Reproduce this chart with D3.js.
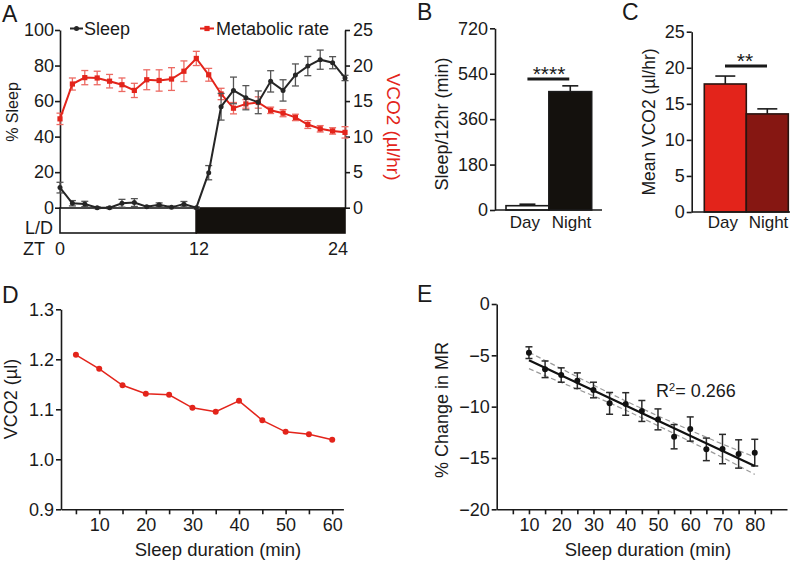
<!DOCTYPE html>
<html><head><meta charset="utf-8">
<script src="https://cdn.jsdelivr.net/npm/d3@7"></script>
<style>
body{margin:0;background:#fff}
svg{display:block}
text{font-family:"Liberation Sans",Arial,Helvetica,sans-serif;fill:#1a1a1a}
</style>
</head><body>
<svg id="chart" width="800" height="564"></svg>
<script>
// ---------------- DATA ----------------
// Panel A (hourly bins, ZT)
const ztIndex = [0,1,2,3,4,5,6,7,8,9,10,11,12,13,14,15,16,17,18,19,20,21,22,23];
const sleepPct = [11.3,2.5,2.1,0,0,2.5,2.9,0.5,1.7,0.2,2,0,19.7,56.8,66,61.9,59.3,71.1,66,74.7,79.7,83.3,81.6,73];
const sleepPctErr = [3,1.5,1.5,0.5,0.5,2.2,2.2,0.6,1,0.6,1.5,0.5,4,7.5,7.5,6.8,6.4,6,6,6.2,5.4,5.4,3.4,1.5];
const vco2Hourly = [12.5,17.4,18.3,18.25,17.8,17.3,16.5,18.0,17.9,18.1,19.2,21.0,18.7,16.0,14.0,14.6,14.8,13.7,13.3,12.7,11.7,11.1,10.8,10.6];
const vco2HourlyErr = [0.8,0.85,1.0,0.95,0.95,0.95,1.0,1.4,1.5,1.6,1.45,1.0,0.9,0.8,0.8,0.6,0.8,0.45,0.5,0.45,0.55,0.45,0.45,0.8];
const sleepTicks = [0,20,40,60,80,100];
const vco2Ticks = [0,5,10,15,20,25];
const ztLabels = [0,12,24];
const lightPhase = [0,11];
const darkPhase = [11,23];

// Panel B
const periods = ["Day","Night"];
const sleepMin = [17,469];
const sleepMinErr = [6,23];
const sleepMinTicks = [0,180,360,540,720];

// Panel C
const meanVco2 = [17.75,13.6];
const meanVco2Err = [1.1,0.7];
const meanVco2Ticks = [0,5,10,15,20,25];

// Panel D
const durD = [5,10,15,20,25,30,35,40,45,50,55,60];
const vco2D = [1.209,1.181,1.148,1.131,1.129,1.103,1.095,1.117,1.078,1.055,1.050,1.039];
const vco2DTicks = [0.9,1.0,1.1,1.2,1.3];
const durDTicks = [5,10,15,20,25,30,35,40,45,50,55,60];
const durDLabels = [10,20,30,40,50,60];

// Panel E
const durE = [10,15,20,25,30,35,40,45,50,55,60,65,70,75,80];
const mrChange = [-4.74,-6.36,-6.92,-7.47,-8.38,-9.68,-9.74,-10.42,-11.24,-12.93,-12.18,-14.16,-14.13,-14.61,-14.48];
const mrErr = [0.57,0.81,0.70,0.76,0.76,1.06,1.10,1.02,1.02,1.18,1.18,1.10,1.43,1.38,1.30];
const fitX = [10,80];
const fitY = [-5.49,-15.78];
const bandX = [10,20,30,40,50,60,70,80];
const bandUpper = [-4.7,-6.3,-7.9,-9.45,-10.9,-12.3,-13.65,-14.9];
const bandLower = [-6.3,-7.65,-8.95,-10.35,-11.85,-13.4,-14.95,-16.6];
const mrTicks = [0,-5,-10,-15,-20];
const durETicks = [5,10,15,20,25,30,35,40,45,50,55,60,65,70,75,80,85];
const durELabels = [10,20,30,40,50,60,70,80];

// ---------------- STYLE ----------------
const INK = "#1a1a1a";
const RED = "#e3241b";
const RED_ERR = "#ec6a63";
const DARKRED = "#861712";
const FS = 18;
const labelShift = [-2.5, 1.2];

const svg = d3.select("#chart");

function styleAxis(g, color){
  g.select(".domain").attr("stroke", color||INK).attr("stroke-width",1.6);
  g.selectAll(".tick line").attr("stroke", color||INK).attr("stroke-width",1.6);
  g.selectAll(".tick text").attr("font-size",FS).attr("fill", color||INK)
    .style("font-family",'"Liberation Sans",Arial,sans-serif');
}
function panelLabel(t,x,y){
  svg.append("text").attr("x",x).attr("y",y).attr("font-size",23).text(t);
}

// ================= PANEL A =================
{
  const x = d3.scaleLinear().domain([0,23]).range([60,345]);
  const xl = d3.scaleLinear().domain([0,24]).range([60,338]);
  const yL = d3.scaleLinear().domain([0,100]).range([207.7,30]);
  const yR = d3.scaleLinear().domain([0,25]).range([207.7,30]);

  const gL = svg.append("g").attr("transform","translate(60,0)")
    .call(d3.axisLeft(yL).tickValues(sleepTicks).tickSize(5).tickPadding(1).tickSizeOuter(0));
  styleAxis(gL);
  const gR = svg.append("g").attr("transform","translate(345,0)")
    .call(d3.axisRight(yR).tickValues(vco2Ticks).tickSize(5).tickPadding(3).tickSizeOuter(0));
  styleAxis(gR, INK);
  gR.selectAll(".tick text").attr("fill",RED);

  // L/D bar
  const barTop = 208, barH = 25;
  svg.append("rect").attr("x",x(lightPhase[0])).attr("y",barTop)
    .attr("width",x(lightPhase[1])-x(lightPhase[0])).attr("height",barH)
    .attr("fill","#fff").attr("stroke",INK).attr("stroke-width",1.6);
  svg.append("rect").attr("x",x(darkPhase[0])).attr("y",barTop)
    .attr("width",x(darkPhase[1])-x(darkPhase[0])).attr("height",barH)
    .attr("fill","#14110d").attr("stroke","#14110d").attr("stroke-width",1.6);
  svg.append("text").attr("x",53).attr("y",234).attr("text-anchor","end").attr("font-size",FS).text("L/D");
  svg.append("text").attr("x",23).attr("y",255).attr("font-size",FS).text("ZT");
  svg.selectAll(".ztl").data(ztLabels).enter().append("text")
    .attr("x",d=>xl(d)).attr("y",255).attr("text-anchor","middle").attr("font-size",FS).text(d=>d);

  // red series
  const redLine = d3.line().x((d,i)=>x(ztIndex[i])).y(d=>yR(d));
  svg.append("g").selectAll("g").data(vco2Hourly).enter().append("g").each(function(d,i){
    const g = d3.select(this), cx = x(ztIndex[i]), e = vco2HourlyErr[i];
    g.append("line").attr("x1",cx).attr("x2",cx).attr("y1",yR(d-e)).attr("y2",yR(d+e));
    g.append("line").attr("x1",cx-3.5).attr("x2",cx+3.5).attr("y1",yR(d-e)).attr("y2",yR(d-e));
    g.append("line").attr("x1",cx-3.5).attr("x2",cx+3.5).attr("y1",yR(d+e)).attr("y2",yR(d+e));
  }).selectAll("line").attr("stroke",RED_ERR).attr("stroke-width",1.3);
  svg.append("path").datum(vco2Hourly).attr("d",redLine).attr("fill","none").attr("stroke",RED).attr("stroke-width",2);
  svg.selectAll(".rsq").data(vco2Hourly).enter().append("rect")
    .attr("x",(d,i)=>x(ztIndex[i])-2.6).attr("y",d=>yR(d)-2.6).attr("width",5.2).attr("height",5.2).attr("fill",RED);

  // black series
  const blkLine = d3.line().x((d,i)=>x(ztIndex[i])).y(d=>yL(d));
  svg.append("g").selectAll("g").data(sleepPct).enter().append("g").each(function(d,i){
    const g = d3.select(this), cx = x(ztIndex[i]), e = sleepPctErr[i];
    g.append("line").attr("x1",cx).attr("x2",cx).attr("y1",yL(d-e)).attr("y2",yL(d+e));
    g.append("line").attr("x1",cx-3.5).attr("x2",cx+3.5).attr("y1",yL(d-e)).attr("y2",yL(d-e));
    g.append("line").attr("x1",cx-3.5).attr("x2",cx+3.5).attr("y1",yL(d+e)).attr("y2",yL(d+e));
  }).selectAll("line").attr("stroke","#555").attr("stroke-width",1.3);
  svg.append("path").datum(sleepPct).attr("d",blkLine).attr("fill","none").attr("stroke","#262626").attr("stroke-width",2);
  svg.selectAll(".bdot").data(sleepPct).enter().append("circle")
    .attr("cx",(d,i)=>x(ztIndex[i])).attr("cy",d=>yL(d)).attr("r",2.5).attr("fill","#262626");

  // legend
  svg.append("line").attr("x1",70).attr("x2",83).attr("y1",28.5).attr("y2",28.5).attr("stroke","#262626").attr("stroke-width",2);
  svg.append("circle").attr("cx",76.5).attr("cy",28.5).attr("r",2.5).attr("fill","#262626");
  svg.append("text").attr("x",84).attr("y",35).attr("font-size",18).text("Sleep");
  svg.append("line").attr("x1",200).attr("x2",214).attr("y1",28.5).attr("y2",28.5).attr("stroke",RED).attr("stroke-width",2);
  svg.append("rect").attr("x",204.4).attr("y",25.9).attr("width",5.2).attr("height",5.2).attr("fill",RED);
  svg.append("text").attr("x",216).attr("y",35).attr("font-size",18).text("Metabolic rate");

  // axis titles
  svg.append("text").attr("transform","translate(18,112) rotate(-90)").attr("text-anchor","middle")
    .attr("font-size",16).text("% Sleep");
  svg.append("text").attr("transform","translate(387,127) rotate(90)").attr("text-anchor","middle")
    .attr("font-size",19).attr("fill",RED).style("fill",RED).text("VCO2 (µl/hr)");
  panelLabel("A",2,22);
}

// ================= PANEL B =================
{
  const x = d3.scaleBand().domain(periods).range([506,591.7]).padding(0);
  const y = d3.scaleLinear().domain([0,720]).range([210,28.3]);
  const g = svg.append("g").attr("transform","translate(495,0)")
    .call(d3.axisLeft(y).tickValues(sleepMinTicks).tickSize(5).tickPadding(2).tickSizeOuter(0));
  styleAxis(g);
  const fills = ["#ffffff","#14110d"];
  periods.forEach((p,i)=>{
    const cx = x(p)+x.bandwidth()/2;
    svg.append("line").attr("x1",cx).attr("x2",cx).attr("y1",y(sleepMin[i])).attr("y2",y(sleepMin[i]+sleepMinErr[i]))
      .attr("stroke",INK).attr("stroke-width",1.6);
    svg.append("line").attr("x1",cx-8).attr("x2",cx+8).attr("y1",y(sleepMin[i]+sleepMinErr[i])).attr("y2",y(sleepMin[i]+sleepMinErr[i]))
      .attr("stroke",INK).attr("stroke-width",1.6);
  });
  svg.selectAll(".bb").data(sleepMin).enter().append("rect")
    .attr("x",(d,i)=>x(periods[i])).attr("y",d=>y(d)).attr("width",x.bandwidth()).attr("height",d=>y(0)-y(d))
    .attr("fill",(d,i)=>fills[i]).attr("stroke",INK).attr("stroke-width",1.6);
  svg.append("line").attr("x1",495).attr("x2",602).attr("y1",y(0)).attr("y2",y(0)).attr("stroke",INK).attr("stroke-width",1.6);
  svg.selectAll(".bl").data(periods).enter().append("text")
    .attr("x",(d,i)=>x(d)+x.bandwidth()/2+labelShift[i]).attr("y",228).attr("text-anchor","middle").attr("font-size",17).text(d=>d);
  svg.append("line").attr("x1",x("Day")+x.bandwidth()/2).attr("x2",x("Night")+x.bandwidth()/2-1)
    .attr("y1",79).attr("y2",79).attr("stroke",INK).attr("stroke-width",3.2);
  svg.append("text").attr("x",549).attr("y",81).attr("text-anchor","middle").attr("font-size",21).text("****");
  svg.append("text").attr("transform","translate(448,124) rotate(-90)").attr("text-anchor","middle")
    .attr("font-size",FS).text("Sleep/12hr (min)");
  panelLabel("B",417,20);
}

// ================= PANEL C =================
{
  const x = d3.scaleBand().domain(periods).range([704.3,788.3]).padding(0);
  const y = d3.scaleLinear().domain([0,25]).range([212,31.7]);
  const g = svg.append("g").attr("transform","translate(691.7,0)")
    .call(d3.axisLeft(y).tickValues(meanVco2Ticks).tickSize(5).tickPadding(2).tickSizeOuter(0));
  styleAxis(g);
  const fills = [RED, DARKRED];
  periods.forEach((p,i)=>{
    const cx = x(p)+x.bandwidth()/2;
    svg.append("line").attr("x1",cx).attr("x2",cx).attr("y1",y(meanVco2[i])).attr("y2",y(meanVco2[i]+meanVco2Err[i]))
      .attr("stroke",INK).attr("stroke-width",1.6);
    svg.append("line").attr("x1",cx-10).attr("x2",cx+10).attr("y1",y(meanVco2[i]+meanVco2Err[i])).attr("y2",y(meanVco2[i]+meanVco2Err[i]))
      .attr("stroke",INK).attr("stroke-width",1.6);
  });
  svg.selectAll(".cb").data(meanVco2).enter().append("rect")
    .attr("x",(d,i)=>x(periods[i])).attr("y",d=>y(d)).attr("width",x.bandwidth()).attr("height",d=>y(0)-y(d))
    .attr("fill",(d,i)=>fills[i]).attr("stroke","#2a1410").attr("stroke-width",1.6);
  svg.append("line").attr("x1",691.7).attr("x2",790).attr("y1",y(0)).attr("y2",y(0)).attr("stroke",INK).attr("stroke-width",1.6);
  svg.selectAll(".cl").data(periods).enter().append("text")
    .attr("x",(d,i)=>x(d)+x.bandwidth()/2+labelShift[i]).attr("y",228).attr("text-anchor","middle").attr("font-size",17).text(d=>d);
  svg.append("line").attr("x1",725).attr("x2",767).attr("y1",66).attr("y2",66).attr("stroke",INK).attr("stroke-width",3.2);
  svg.append("text").attr("x",745).attr("y",68).attr("text-anchor","middle").attr("font-size",21).text("**");
  svg.append("text").attr("transform","translate(655,122) rotate(-90)").attr("text-anchor","middle")
    .attr("font-size",17.5).text("Mean VCO2 (µl/hr)");
  panelLabel("C",622,20);
}

// ================= PANEL D =================
{
  const x = d3.scaleLinear().domain([1.8,62.4]).range([61,343.4]);
  const y = d3.scaleLinear().domain([0.9,1.3]).range([509.3,309.3]);
  const gy = svg.append("g").attr("transform","translate(61,0)")
    .call(d3.axisLeft(y).tickValues(vco2DTicks).tickFormat(d3.format(".1f")).tickSize(5).tickPadding(2).tickSizeOuter(0));
  styleAxis(gy);
  const gx = svg.append("g").attr("transform","translate(0,509.3)")
    .call(d3.axisBottom(x).tickValues(durDTicks).tickFormat(d=>durDLabels.includes(d)?d:"").tickSize(5).tickPadding(4).tickSizeOuter(0));
  styleAxis(gx);
  const line = d3.line().x((d,i)=>x(durD[i])).y(d=>y(d));
  svg.append("path").datum(vco2D).attr("d",line).attr("fill","none").attr("stroke",RED).attr("stroke-width",1.5);
  svg.selectAll(".dd").data(vco2D).enter().append("circle")
    .attr("cx",(d,i)=>x(durD[i])).attr("cy",d=>y(d)).attr("r",3).attr("fill",RED);
  svg.append("text").attr("transform","translate(17,399) rotate(-90)").attr("text-anchor","middle")
    .attr("font-size",FS).text("VCO2 (µl)");
  svg.append("text").attr("x",218).attr("y",556).attr("text-anchor","middle").attr("font-size",18.5).text("Sleep duration (min)");
  panelLabel("D",2,303);
}

// ================= PANEL E =================
{
  const x = d3.scaleLinear().domain([0,90]).range([496.7,787]);
  const y = d3.scaleLinear().domain([-20,0]).range([509.3,304]);
  const gy = svg.append("g").attr("transform","translate(496.7,0)")
    .call(d3.axisLeft(y).tickValues(mrTicks).tickSize(5).tickPadding(2).tickSizeOuter(0));
  styleAxis(gy);
  const gx = svg.append("g").attr("transform","translate(0,509.3)")
    .call(d3.axisBottom(x).tickValues(durETicks).tickFormat(d=>durELabels.includes(d)?d:"").tickSize(5).tickPadding(4).tickSizeOuter(0));
  styleAxis(gx);
  const bl = d3.line().x((d,i)=>x(bandX[i])).y(d=>y(d)).curve(d3.curveMonotoneX);
  [bandUpper,bandLower].forEach(b=>{
    svg.append("path").datum(b).attr("d",bl).attr("fill","none").attr("stroke","#9a9a9a")
      .attr("stroke-width",1.2).attr("stroke-dasharray","5,3");
  });
  svg.append("g").selectAll("g").data(mrChange).enter().append("g").each(function(d,i){
    const g = d3.select(this), cx = x(durE[i]), e = mrErr[i];
    g.append("line").attr("x1",cx).attr("x2",cx).attr("y1",y(d-e)).attr("y2",y(d+e));
    g.append("line").attr("x1",cx-3.5).attr("x2",cx+3.5).attr("y1",y(d-e)).attr("y2",y(d-e));
    g.append("line").attr("x1",cx-3.5).attr("x2",cx+3.5).attr("y1",y(d+e)).attr("y2",y(d+e));
  }).selectAll("line").attr("stroke","#2a2a2a").attr("stroke-width",1.5);
  svg.append("path").datum(fitY).attr("d",d3.line().x((d,i)=>x(fitX[i])).y(d=>y(d)))
    .attr("fill","none").attr("stroke","#111").attr("stroke-width",2.2);
  svg.selectAll(".ed").data(mrChange).enter().append("circle")
    .attr("cx",(d,i)=>x(durE[i])).attr("cy",d=>y(d)).attr("r",3).attr("fill","#111");
  const r2 = svg.append("text").attr("x",656).attr("y",397).attr("font-size",FS);
  r2.append("tspan").text("R");
  r2.append("tspan").attr("dy",-6).attr("font-size",11).text("2");
  r2.append("tspan").attr("dy",6).text("= 0.266");
  svg.append("text").attr("transform","translate(448,410) rotate(-90)").attr("text-anchor","middle")
    .attr("font-size",FS).text("% Change in MR");
  svg.append("text").attr("x",648).attr("y",556).attr("text-anchor","middle").attr("font-size",18.5).text("Sleep duration (min)");
  panelLabel("E",417,302);
}
</script>
</body></html>
